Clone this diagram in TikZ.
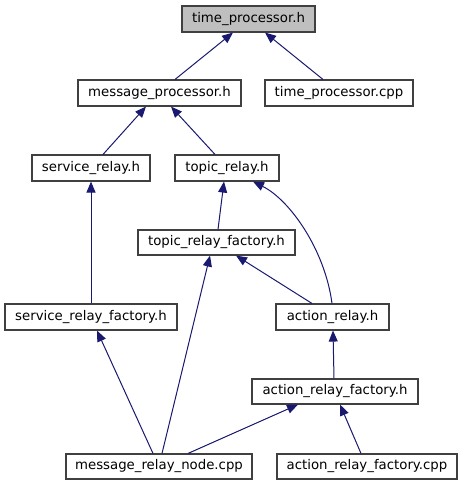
\documentclass[tikz,border=0pt]{standalone}
\usepackage{fontspec}
\setmainfont{DejaVu Sans}
\usetikzlibrary{arrows.meta}
\definecolor{edgeblue}{HTML}{191970}
\definecolor{boxborder}{HTML}{404040}
\definecolor{topfill}{HTML}{BFBFBF}
\begin{document}
\begin{tikzpicture}[x=1pt,y=-1pt,
  box/.style={draw=boxborder,line width=1.1pt,fill=white,inner sep=0pt,minimum height=26pt,
    font=\fontsize{13.3}{16}\selectfont,anchor=center},
  dep/.style={draw=edgeblue,line width=1pt,-{Triangle[length=11pt,width=9pt]},color=edgeblue}]
\useasboundingbox (0,0) rectangle (463,485);
\node[box,fill=topfill,minimum width=133pt] (tp) at (248.5,19) {time\_processor.h};
\node[box,minimum width=163pt] (mp) at (159.5,93) {message\_processor.h};
\node[box,minimum width=148pt] (tpc) at (339,93) {time\_processor.cpp};
\node[box,minimum width=118pt] (sr) at (91,168) {service\_relay.h};
\node[box,minimum width=104pt] (tr) at (227,168) {topic\_relay.h};
\node[box,minimum width=157pt,minimum height=25pt] (trf) at (216.5,242.5) {topic\_relay\_factory.h};
\node[box,minimum width=172pt] (srf) at (91,317) {service\_relay\_factory.h};
\node[box,minimum width=113pt] (ar) at (332.5,317) {action\_relay.h};
\node[box,minimum width=166pt,minimum height=25pt] (arf) at (335,391.5) {action\_relay\_factory.h};
\node[box,minimum width=186pt,minimum height=25pt] (mrn) at (159,466.5) {message\_relay\_node.cpp};
\node[box,minimum width=180pt,minimum height=25pt] (arfc) at (367,466.5) {action\_relay\_factory.cpp};

\draw[dep] ([xshift=15.5pt]mp.north) -- ([xshift=-15.5pt]tp.south);
\draw[dep] ([xshift=-16pt]tpc.north) -- ([xshift=16.5pt]tp.south);
\draw[dep] ([xshift=12pt]sr.north) -- ([xshift=-13.5pt]mp.south);
\draw[dep] ([xshift=-12pt]tr.north) -- ([xshift=11.5pt]mp.south);
\draw[dep] ([xshift=1.5pt]trf.north) -- ([xshift=-3pt]tr.south);
\draw[dep] ([xshift=-0.5pt]ar.north) .. controls (325,250) and (290,200) .. ([xshift=26pt]tr.south);
\draw[dep] (srf.north) -- (sr.south);
\draw[dep] ([xshift=-6pt]mrn.north) -- ([xshift=6pt]srf.south);
\draw[dep] ([xshift=3pt]mrn.north) -- ([xshift=-6.5pt]trf.south);
\draw[dep] ([xshift=-20.5pt]ar.north) -- ([xshift=19.5pt]trf.south);
\draw[dep] ([xshift=-1pt]arf.north) -- ([xshift=0.5pt]ar.south);
\draw[dep] ([xshift=29pt]mrn.north) -- ([xshift=-37pt]arf.south);
\draw[dep] ([xshift=-6pt]arfc.north) -- ([xshift=5pt]arf.south);
\end{tikzpicture}
\end{document}
